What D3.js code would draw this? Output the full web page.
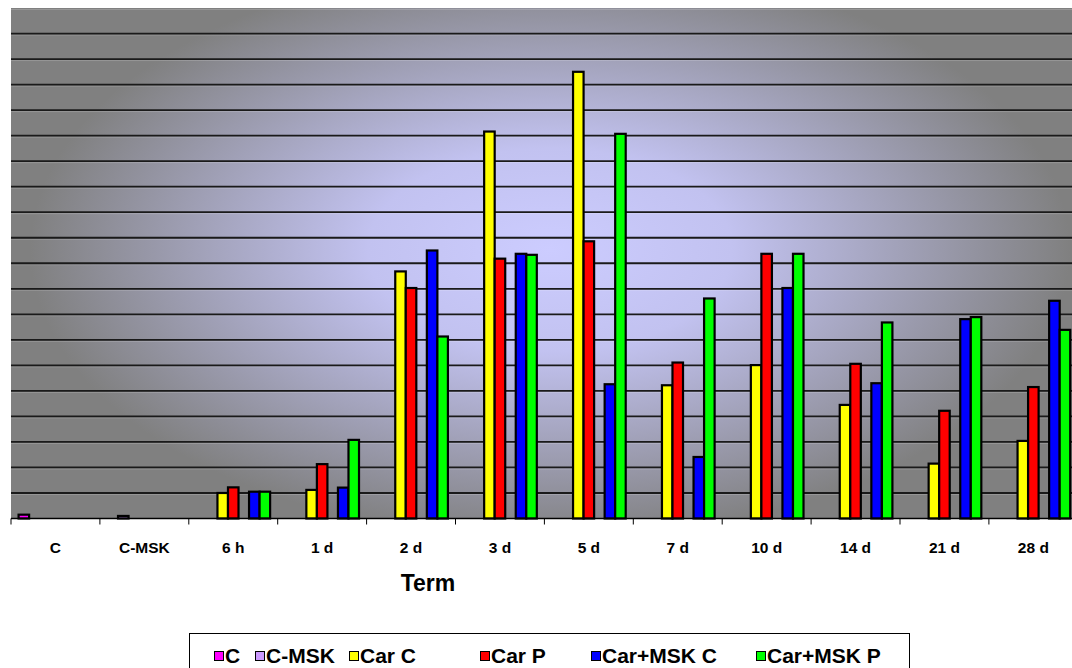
<!DOCTYPE html>
<html>
<head>
<meta charset="utf-8">
<script src="https://cdn.jsdelivr.net/npm/d3@7"></script>
<style>
html,body{margin:0;padding:0;background:#fff;}
svg{display:block;}
text{font-family:"Liberation Sans",Arial,sans-serif;font-weight:bold;}
</style>
</head>
<body>
<svg id="chart" width="1072" height="668"></svg>
<script>
// ---- data ----
const categories = ["C","C-MSK","6 h","1 d","2 d","3 d","5 d","7 d","10 d","14 d","21 d","28 d"];
const seriesNames = ["C","C-MSK","Car C","Car P","Car+MSK C","Car+MSK P"];
const seriesColors = ["#ff00ff","#cc99ff","#ffff00","#ff0000","#0000ff","#00ff00"];
// bar slots inside each category (the 5th slot is empty in the original)
const slots = ["C","C-MSK","Car C","Car P","gap","Car+MSK C","Car+MSK P"];
const valC       = [0.15,null,null,null,null,null,null,null,null,null,null,null];
const valCMSK    = [null,0.1,null,null,null,null,null,null,null,null,null,null];
const valCarC    = [null,null,1.0,1.12,9.68,15.16,17.5,5.22,6.01,4.45,2.15,3.04];
const valCarP    = [null,null,1.22,2.13,9.03,10.18,10.86,6.11,10.37,6.06,4.22,5.15];
const valCarMSKC = [null,null,1.05,1.21,10.5,10.37,5.26,2.41,9.03,5.3,7.81,8.53];
const valCarMSKP = [null,null,1.05,3.08,7.13,10.33,15.07,8.62,10.37,7.68,7.89,7.39];
const seriesValues = [valC,valCMSK,valCarC,valCarP,valCarMSKC,valCarMSKP];
const yMax = 20;
const gridTicks = d3.range(1, 21);
const xTitle = "Term";

// ---- layout ----
const svg = d3.select("#chart");
const pLeft = 11, pTop = 8, pBottom = 518.5, pStep = 88.9;
const pRight = pLeft + pStep * categories.length;

const x = d3.scaleBand().domain(categories).range([pLeft, pRight]).padding(0);
const xs = d3.scaleBand().domain(slots).range([0, x.bandwidth()]).paddingInner(0).paddingOuter(0.72);
const y = d3.scaleLinear().domain([0, yMax]).range([pBottom, pTop]);

// background gradient
const defs = svg.append("defs");
const grad = defs.append("radialGradient").attr("id","bg")
  .attr("gradientUnits","userSpaceOnUse")
  .attr("cx",0).attr("cy",0).attr("r",1)
  .attr("gradientTransform","translate(550,250) scale(520,290)");
grad.append("stop").attr("offset","0").attr("stop-color","#ccccff");
grad.append("stop").attr("offset","0.35").attr("stop-color","#c2c2f0");
grad.append("stop").attr("offset","1").attr("stop-color","#808080");

svg.append("rect").attr("x", pLeft).attr("y", pTop)
  .attr("width", 1072 - pLeft).attr("height", pBottom - pTop)
  .attr("fill","url(#bg)");

// gridlines
const grid = svg.append("g");
grid.selectAll("line.sh").data(gridTicks).join("line").attr("class","sh")
  .attr("x1", pLeft).attr("x2", 1072)
  .attr("y1", d => y(d) + 1.5).attr("y2", d => y(d) + 1.5)
  .attr("stroke","#ffffff").attr("stroke-opacity",0.18).attr("stroke-width",1);
grid.selectAll("line.g").data(gridTicks.filter(d => d < yMax)).join("line").attr("class","g")
  .attr("x1", pLeft).attr("x2", 1072)
  .attr("y1", d => y(d)).attr("y2", d => y(d))
  .attr("stroke","#1a1a1a").attr("stroke-width",1.8);

// bars
const barData = [];
seriesNames.forEach((s, si) => {
  seriesValues[si].forEach((v, ci) => {
    if (v != null) barData.push({series: s, color: seriesColors[si], cat: categories[ci], value: v});
  });
});
svg.append("g").selectAll("rect").data(barData).join("rect")
  .attr("x", d => x(d.cat) + xs(d.series))
  .attr("y", d => y(d.value))
  .attr("width", xs.bandwidth())
  .attr("height", d => y(0) - y(d.value))
  .attr("fill", d => d.color)
  .attr("stroke","#000").attr("stroke-width",2.2);

// x axis
const xAxis = svg.append("g").attr("transform", `translate(0,${pBottom})`);
xAxis.append("line").attr("x1", pLeft).attr("x2", 1072).attr("y1",0).attr("y2",0)
  .attr("stroke","#000").attr("stroke-width",1.5);
xAxis.selectAll("line.tk").data(categories).join("line").attr("class","tk")
  .attr("x1", d => x(d)).attr("x2", d => x(d))
  .attr("y1",0).attr("y2",6).attr("stroke","#000").attr("stroke-width",1);
xAxis.selectAll("text").data(categories).join("text")
  .attr("x", d => x(d) + x.bandwidth()/2)
  .attr("y", 34)
  .attr("text-anchor","middle")
  .attr("font-size",15.5)
  .attr("fill","#000")
  .text(d => d);

svg.append("text").attr("x", 428).attr("y", 591)
  .attr("text-anchor","middle").attr("font-size",23).attr("fill","#000")
  .text(xTitle);

// legend
const lg = svg.append("g");
lg.append("rect").attr("x",189.5).attr("y",633.5).attr("width",720).attr("height",60)
  .attr("fill","#fff").attr("stroke","#000").attr("stroke-width",1);
const legendX = [214, 255, 349, 480, 591, 756];
seriesNames.forEach((s, i) => {
  const g = lg.append("g").attr("transform", `translate(${legendX[i]},0)`);
  g.append("rect").attr("x",0.5).attr("y",651.5).attr("width",9).attr("height",9)
    .attr("fill", seriesColors[i]).attr("stroke","#000").attr("stroke-width",1);
  g.append("text").attr("x",11).attr("y",663).attr("font-size",21).attr("fill","#000").text(s);
});
</script>
</body>
</html>
